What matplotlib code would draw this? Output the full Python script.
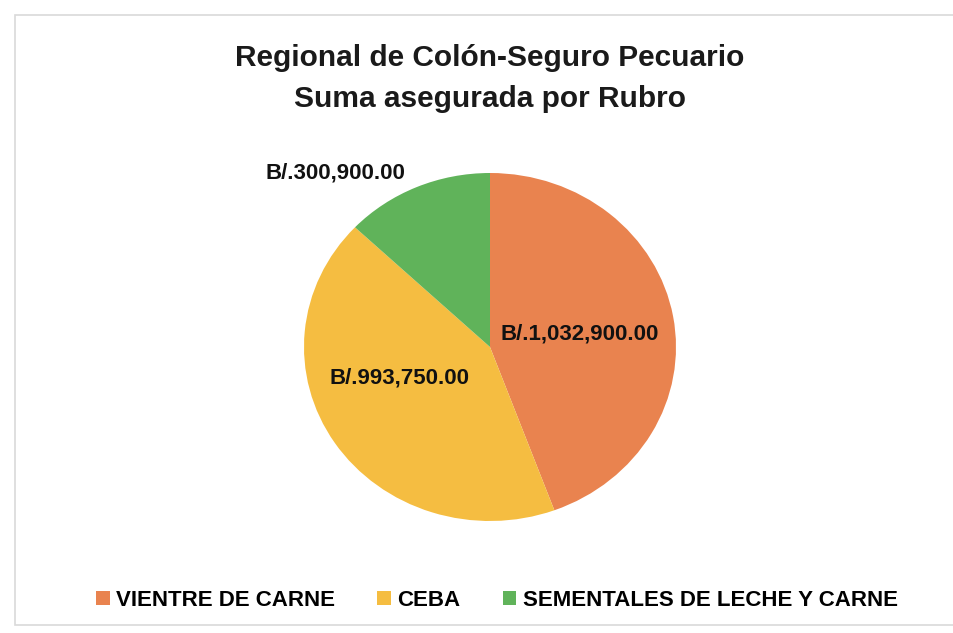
import matplotlib
matplotlib.use("Agg")
import numpy as np
from matplotlib import pyplot as plt
from matplotlib.patches import Rectangle

rubros = ['VIENTRE DE CARNE', 'CEBA', 'SEMENTALES DE LECHE Y CARNE']
suma = [1032900.00, 993750.00, 300900.00]
colores = ['#E9834F', '#F5BD41', '#60B35A']

# where each value label sits (radius, degrees) relative to the pie center
label_pos = [(0.49, 9), (0.52, -160), (1.30, 129.8)]

plt.rcParams['font.family'] = ['Liberation Sans', 'DejaVu Sans']

fig = plt.figure(figsize=(9.54, 6.33), dpi=100)
fig.patches.append(Rectangle((15/954, 8/633), 939/954, 610/633, transform=fig.transFigure,
                             facecolor='white', edgecolor='#d9d9d9', linewidth=1.2, zorder=-5))

W, H = 954, 633
cx, cy = 490, 347
rx, ry = 186, 174
ax = fig.add_axes([(cx-rx)/W, (H-cy-ry)/H, 2*rx/W, 2*ry/H])
ax.patch.set_alpha(0)
wedges, _ = ax.pie(suma, colors=colores, startangle=90, counterclock=False,
                   wedgeprops=dict(linewidth=0))
ax.set_aspect('auto')
ax.set_xlim(-1, 1)
ax.set_ylim(-1, 1)

for val, (r, ang) in zip(suma, label_pos):
	t = np.deg2rad(ang)
	ax.text(r*np.cos(t), r*np.sin(t), 'B/.{:,.2f}'.format(val), ha='center', va='center',
	        fontsize=16, fontweight='bold', color='#111111', clip_on=False)

fig.text(490/W, 1-58/H, 'Regional de Colón-Seguro Pecuario', ha='center', va='center',
         fontsize=21.5, fontweight='bold', color='#1a1a1a')
fig.text(490/W, 1-99/H, 'Suma asegurada por Rubro', ha='center', va='center',
         fontsize=21.5, fontweight='bold', color='#1a1a1a')

fig.legend(wedges, rubros, loc='center', bbox_to_anchor=(0.521, 1-600/H), ncol=3,
           frameon=False, handlelength=0.6, handleheight=0.6, handletextpad=0.3,
           columnspacing=1.9, prop=dict(size=16, weight='bold'))

fig.savefig('out.png', dpi=100)
